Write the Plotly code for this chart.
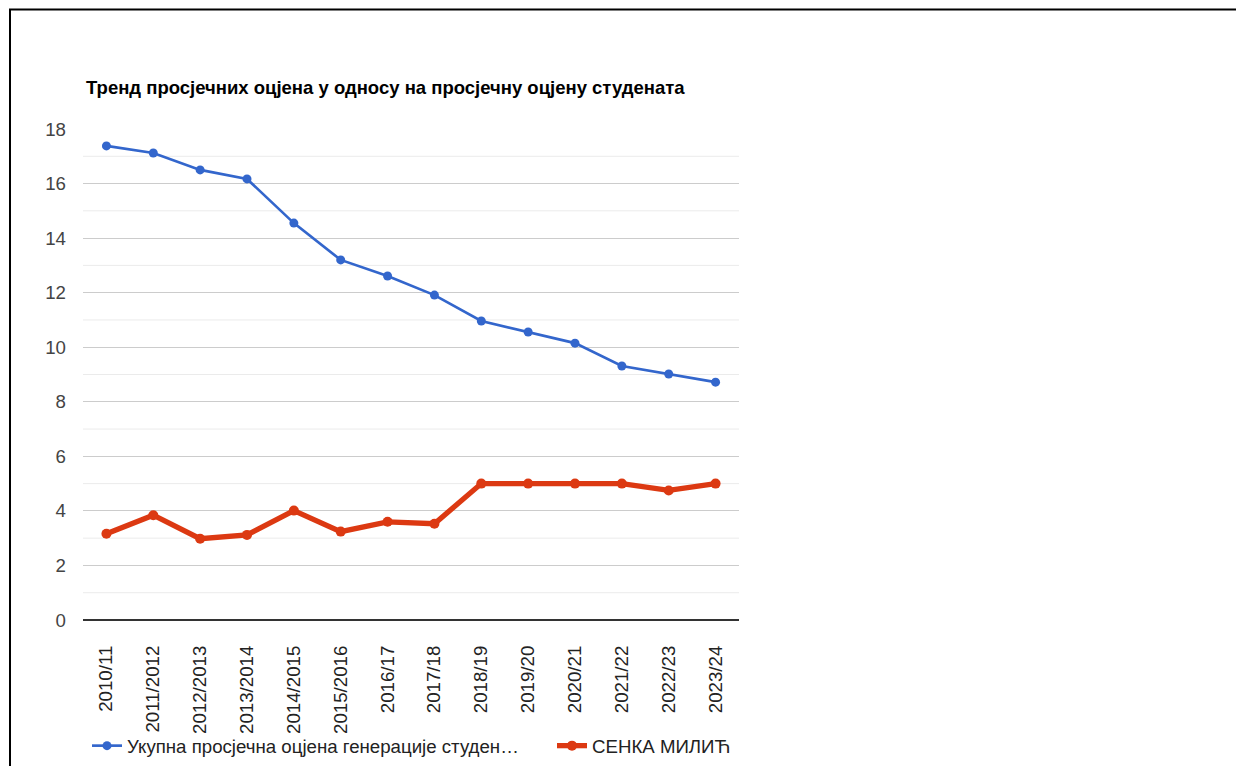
import plotly.graph_objects as go

categories = ["2010/11", "2011/2012", "2012/2013", "2013/2014", "2014/2015", "2015/2016",
              "2016/17", "2017/18", "2018/19", "2019/20", "2020/21", "2021/22", "2022/23", "2023/24"]
total_avg = [17.38, 17.12, 16.5, 16.17, 14.55, 13.2, 12.61, 11.91, 10.96, 10.56, 10.15, 9.31, 9.02, 8.72]
senka = [3.16, 3.84, 2.98, 3.12, 4.01, 3.24, 3.6, 3.53, 5.0, 5.0, 5.0, 5.0, 4.75, 5.0]
name_total = "Укупна просјечна оцјена генерације студен…"
name_senka = "СЕНКА МИЛИЋ"
title_text = "Тренд просјечних оцјена у односу на просјечну оцјену студената"
y_ticks = [0, 2, 4, 6, 8, 10, 12, 14, 16, 18]

OFF = 8  # page body margin
W, H = 1244 - 2 * OFF, 774 - 2 * OFF
# plot area in screen pixels -> figure pixels
L, R, T, B = 83 - OFF, 739 - OFF, 129 - OFF, 620 - OFF
FS = 18.67

def px_x(p):
    return (p - OFF - L) / (R - L)

def px_y(p):
    return (B - (p - OFF)) / (B - T)

fig = go.Figure()
fig.add_trace(go.Scatter(
    x=categories, y=total_avg, name=name_total, mode="lines+markers", legend="legend",
    line=dict(color="#3366cc", width=2.67), marker=dict(color="#3366cc", size=9)))
fig.add_trace(go.Scatter(
    x=categories, y=senka, name=name_senka, mode="lines+markers", legend="legend2",
    line=dict(color="#dc3912", width=5.3), marker=dict(color="#dc3912", size=10)))

# minor grid lines at odd values
for v in range(1, 18, 2):
    fig.add_shape(type="line", xref="paper", yref="y", x0=0, x1=1, y0=v, y1=v,
                  line=dict(color="#ebebeb", width=1), layer="below")

# page border (top and left)
fig.add_shape(type="line", xref="paper", yref="paper", x0=px_x(9), x1=px_x(1260),
              y0=px_y(9.5), y1=px_y(9.5), line=dict(color="#000", width=2))
fig.add_shape(type="line", xref="paper", yref="paper", x0=px_x(10), x1=px_x(10),
              y0=px_y(9.5), y1=px_y(790), line=dict(color="#000", width=2))

legend_common = dict(orientation="h", yanchor="middle", bgcolor="rgba(0,0,0,0)",
                     font=dict(size=FS, color="#222"), y=px_y(746))

fig.update_layout(
    width=W, height=H,
    margin=dict(l=L, r=W - R, t=T, b=H - B, pad=0, autoexpand=False),
    paper_bgcolor="white", plot_bgcolor="white",
    font=dict(family="Liberation Sans, Arial, sans-serif", color="#444", size=FS),
    title=dict(text="<b>" + title_text + "</b>", xref="container", yref="container",
               x=(86 - OFF) / W, xanchor="left", y=1 - (88 - OFF) / H, yanchor="middle",
               font=dict(size=18.5, color="#000")),
    showlegend=True,
    legend=dict(x=px_x(87), xanchor="left", **legend_common),
    legend2=dict(x=px_x(552), xanchor="left", **legend_common),
    xaxis=dict(type="category", range=[-0.5, 13.5], tickangle=-90, showgrid=False,
               showline=False, zeroline=False, ticks="", ticklabelstandoff=21,
               automargin=False, tickfont=dict(size=FS, color="#222")),
    yaxis=dict(range=[0, 18], tickvals=y_ticks, showgrid=True, gridcolor="#cccccc",
               gridwidth=1, zeroline=True, zerolinecolor="#333333", zerolinewidth=1.5,
               showline=False, ticks="", ticklabelstandoff=16, automargin=False,
               tickfont=dict(size=FS, color="#444")),
)

fig.write_html("out.html")
